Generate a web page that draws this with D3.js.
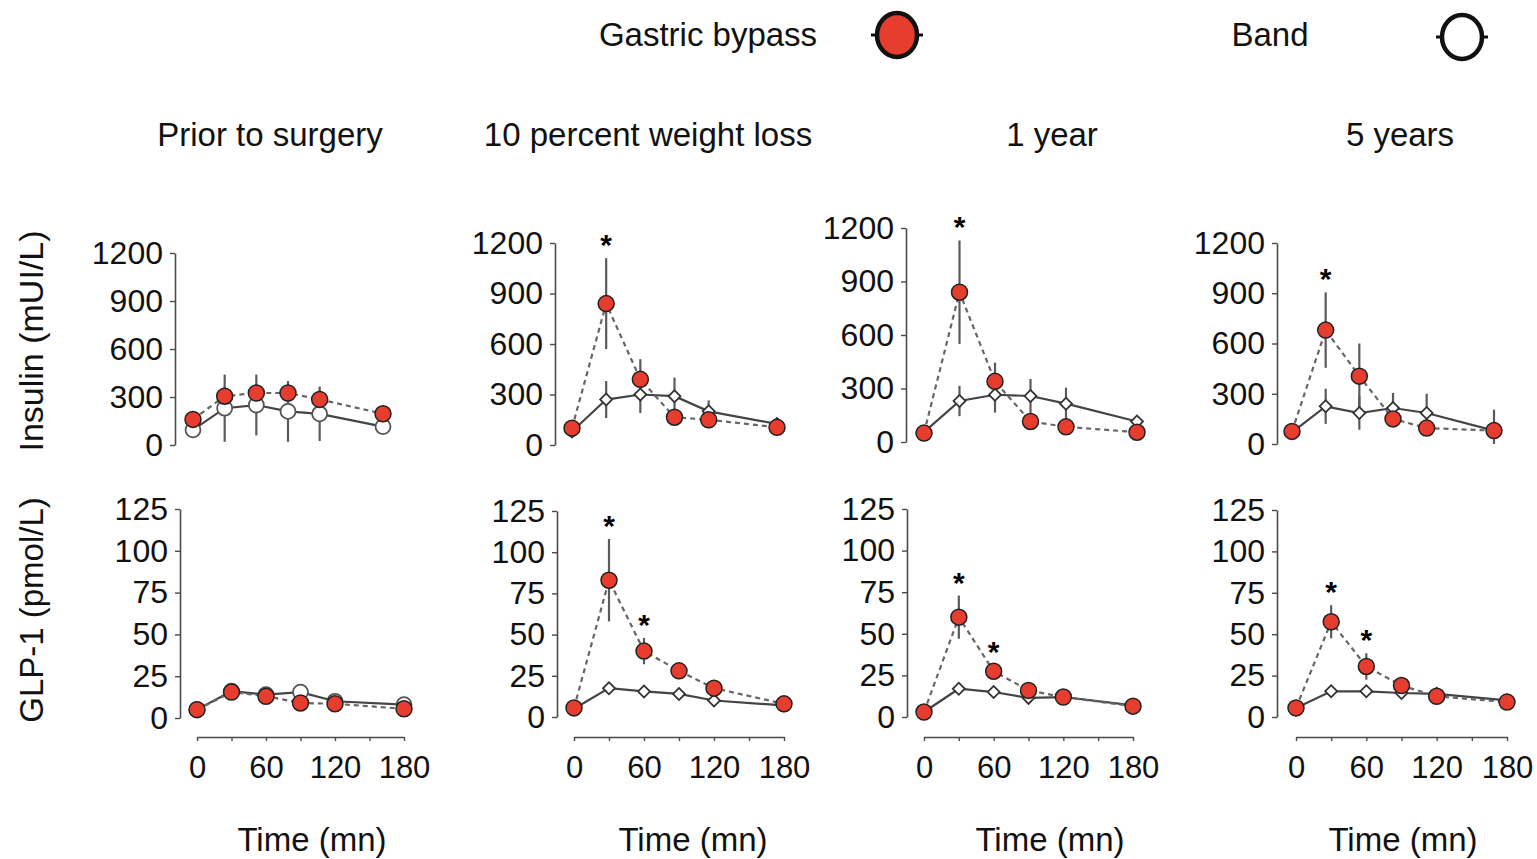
<!DOCTYPE html>
<html>
<head>
<meta charset="utf-8">
<script src="https://cdn.jsdelivr.net/npm/d3@7"></script>
<style>
  html, body { margin: 0; padding: 0; background: #fff; }
  svg { display: block; font-family: "Liberation Sans", Arial, Helvetica, sans-serif; }
</style>
</head>
<body>
<svg id="chart" width="1537" height="859"></svg>
<script>
// ---------------- DATA ----------------
const times = [0, 30, 60, 90, 120, 180];
const panelTitles = ["Prior to surgery", "10 percent weight loss", "1 year", "5 years"];
const seriesNames = ["Gastric bypass", "Band"];
const insulinLabel = "Insulin (mUI/L)";
const glpLabel = "GLP-1 (pmol/L)";
const timeLabel = "Time (mn)";

const insulinTicks = [0, 300, 600, 900, 1200];
const glpTicks = [0, 25, 50, 75, 100, 125];
const timeTicks = [0, 30, 60, 90, 120, 150, 180];
const timeTickLabels = [0, 60, 120, 180];

// Insulin (mUI/L), one row per panel
const insulinBypass = [
  [160, 305, 325, 325, 285, 195],
  [100, 840, 390, 165, 150, 105],
  [50, 840, 340, 115, 85, 55],
  [75, 680, 405, 150, 95, 80]
];
const insulinBypassErr = [
  [30, 60, 60, 60, 60, 30],
  [20, 270, 120, 30, 50, 20],
  [15, 290, 105, 20, 20, 15],
  [15, 225, 195, 25, 20, 20]
];
const insulinBand = [
  [95, 230, 250, 210, 195, 115],
  [80, 270, 300, 290, 200, 125],
  [55, 230, 265, 258, 215, 115],
  [70, 225, 185, 215, 185, 80]
];
const insulinBandErr = [
  [30, 210, 190, 190, 170, 30],
  [20, 110, 110, 110, 65, 20],
  [15, 85, 100, 95, 90, 20],
  [15, 105, 100, 90, 115, 125]
];

// GLP-1 (pmol/L)
const glpBypass = [
  [5, 15.5, 13, 9, 8.5, 5.5],
  [5.5, 83, 40, 28, 17.5, 8],
  [3, 60, 27.5, 16, 12, 6.5],
  [5.5, 57.5, 30.5, 19, 12.5, 9]
];
const glpBypassErr = [
  [1, 2, 2, 2, 2, 1],
  [1, 25, 8, 5, 3, 1],
  [1, 13, 4, 2, 2, 1],
  [1, 10, 8, 3, 2, 1]
];
const glpBand = [
  [5, 16, 14, 15.5, 10, 8],
  [5, 17.5, 15.5, 14, 10, 7],
  [3, 17, 15, 11.5, 12, 7],
  [5.5, 15.5, 15.5, 14.5, 14, 10]
];
const glpBandErr = [
  [1, 2, 2, 4, 2, 2],
  [1, 3, 2, 2, 2, 1],
  [1, 2, 2, 2, 2, 1],
  [1, 2, 2, 2, 2, 2]
];

// significance stars (time points)
const insulinSig = [[], [30], [30], [30]];
const glpSig = [[], [30, 60], [30, 60], [30, 60]];

// ---------------- LAYOUT (pixels) ----------------
const insulinLayout = [
  { axisX: 175, x0: 193, x1: 383, y0: 445, y1: 253 },
  { axisX: 555, x0: 572, x1: 777, y0: 445, y1: 243 },
  { axisX: 906, x0: 924, x1: 1137, y0: 442, y1: 228 },
  { axisX: 1277, x0: 1292, x1: 1494, y0: 444, y1: 243 }
];
const glpLayout = [
  { axisX: 180, x0: 197, x1: 404, y0: 718, y1: 509 },
  { axisX: 557, x0: 574, x1: 784, y0: 717, y1: 511 },
  { axisX: 907, x0: 924, x1: 1133, y0: 717, y1: 509 },
  { axisX: 1277, x0: 1296, x1: 1507, y0: 717, y1: 510 }
];
const titleX = [270, 648, 1052, 1400];
const timeLabelX = [312, 693, 1050, 1403];
const xAxisY = 737;

const RED = "#e63d2e";
const INK = "#111";
const GREY = "#4a4a4a";
const FONT = '"Liberation Sans", Arial, sans-serif';

const svg = d3.select("#chart");

// ---------------- LEGEND ----------------
function legendMarker(cx, cy, fill) {
  const g = svg.append("g");
  g.append("line").attr("x1", cx - 26).attr("x2", cx + 26).attr("y1", cy).attr("y2", cy)
    .attr("stroke", "#111").attr("stroke-width", 3);
  g.append("ellipse").attr("cx", cx).attr("cy", cy).attr("rx", 20).attr("ry", 22)
    .attr("fill", fill).attr("stroke", "#111").attr("stroke-width", 4.5);
}
svg.append("text").attr("x", 708).attr("y", 46).attr("text-anchor", "middle")
  .attr("font-size", 33).attr("fill", INK).text(seriesNames[0]);
legendMarker(897, 35, RED);
svg.append("text").attr("x", 1270).attr("y", 46).attr("text-anchor", "middle")
  .attr("font-size", 33).attr("fill", INK).text(seriesNames[1]);
legendMarker(1462, 37, "#fff");

// ---------------- TITLES ----------------
panelTitles.forEach((t, i) => {
  svg.append("text").attr("x", titleX[i]).attr("y", 146).attr("text-anchor", "middle")
    .attr("font-size", 33).attr("fill", INK).text(t);
  svg.append("text").attr("x", timeLabelX[i]).attr("y", 851).attr("text-anchor", "middle")
    .attr("font-size", 33).attr("fill", INK).text(timeLabel);
});

svg.append("text").attr("transform", "translate(43,341) rotate(-90)").attr("text-anchor", "middle")
  .attr("font-size", 34).attr("fill", INK).text(insulinLabel);
svg.append("text").attr("transform", "translate(43,610) rotate(-90)").attr("text-anchor", "middle")
  .attr("font-size", 33).attr("fill", INK).text(glpLabel);

// ---------------- PANELS ----------------
function drawPanel(L, ticks, maxV, red, redErr, white, whiteErr, sig, whiteShape, withXAxis) {
  const g = svg.append("g");
  const x = d3.scaleLinear().domain([0, 180]).range([L.x0, L.x1]);
  const y = d3.scaleLinear().domain([0, maxV]).range([L.y0, L.y1]);

  // y axis
  const ya = g.append("g").attr("transform", `translate(${L.axisX},0)`)
    .call(d3.axisLeft(y).tickValues(ticks).tickSize(5).tickSizeOuter(0).tickPadding(7)
      .tickFormat(d3.format("d")));
  ya.select(".domain").attr("stroke", GREY).attr("stroke-width", 1.6);
  ya.selectAll(".tick line").attr("stroke", GREY).attr("stroke-width", 1.4);
  ya.selectAll(".tick text").attr("font-size", 32).attr("fill", INK).attr("font-family", FONT);

  if (withXAxis) {
    const xa = g.append("g").attr("transform", `translate(0,${xAxisY})`)
      .call(d3.axisBottom(x).tickValues(timeTicks).tickSize(4).tickSizeOuter(0).tickPadding(15)
        .tickFormat(d => timeTickLabels.includes(d) ? d : ""));
    xa.select(".domain").attr("stroke", GREY).attr("stroke-width", 1.6);
    xa.selectAll(".tick line").attr("stroke", GREY).attr("stroke-width", 1.4);
    xa.selectAll(".tick text").attr("font-size", 31).attr("fill", INK).attr("font-family", FONT);
  }

  const redPts = times.map((t, i) => ({ t, v: red[i], e: redErr[i] }));
  const whitePts = times.map((t, i) => ({ t, v: white[i], e: whiteErr[i] }));

  // error bars
  [whitePts, redPts].forEach(pts => {
    g.append("g").selectAll("line").data(pts).join("line")
      .attr("x1", d => x(d.t)).attr("x2", d => x(d.t))
      .attr("y1", d => y(Math.max(0, d.v - d.e))).attr("y2", d => y(d.v + d.e))
      .attr("stroke", "#5a5a5a").attr("stroke-width", 2.2);
  });

  const line = d3.line().x(d => x(d.t)).y(d => y(d.v));
  g.append("path").datum(whitePts).attr("d", line).attr("fill", "none")
    .attr("stroke", "#444").attr("stroke-width", 2.2);
  g.append("path").datum(redPts).attr("d", line).attr("fill", "none")
    .attr("stroke", "#666").attr("stroke-width", 2.2).attr("stroke-dasharray", "5,4");

  // white markers
  if (whiteShape === "circle") {
    g.append("g").selectAll("circle").data(whitePts).join("circle")
      .attr("cx", d => x(d.t)).attr("cy", d => y(d.v)).attr("r", 7.5)
      .attr("fill", "#fff").attr("stroke", "#555").attr("stroke-width", 1.8);
  } else {
    const sym = d3.symbol().type(d3.symbolSquare).size(72);
    g.append("g").selectAll("path").data(whitePts).join("path")
      .attr("d", sym)
      .attr("transform", d => `translate(${x(d.t)},${y(d.v)}) rotate(45)`)
      .attr("fill", "#fff").attr("stroke", "#333").attr("stroke-width", 1.8);
  }
  // red markers
  g.append("g").selectAll("circle").data(redPts).join("circle")
    .attr("cx", d => x(d.t)).attr("cy", d => y(d.v)).attr("r", 8)
    .attr("fill", RED).attr("stroke", "#222").attr("stroke-width", 1.5);

  // stars
  g.append("g").selectAll("text").data(redPts.filter(d => sig.includes(d.t))).join("text")
    .attr("x", d => x(d.t)).attr("y", d => y(d.v + d.e) - 3)
    .attr("text-anchor", "middle").attr("font-size", 30).attr("font-weight", "bold")
    .attr("fill", "#000").text("*");
}

for (let i = 0; i < 4; i++) {
  drawPanel(insulinLayout[i], insulinTicks, 1200, insulinBypass[i], insulinBypassErr[i],
    insulinBand[i], insulinBandErr[i], insulinSig[i], i === 0 ? "circle" : "diamond", false);
  drawPanel(glpLayout[i], glpTicks, 125, glpBypass[i], glpBypassErr[i],
    glpBand[i], glpBandErr[i], glpSig[i], i === 0 ? "circle" : "diamond", true);
}
</script>
</body>
</html>
